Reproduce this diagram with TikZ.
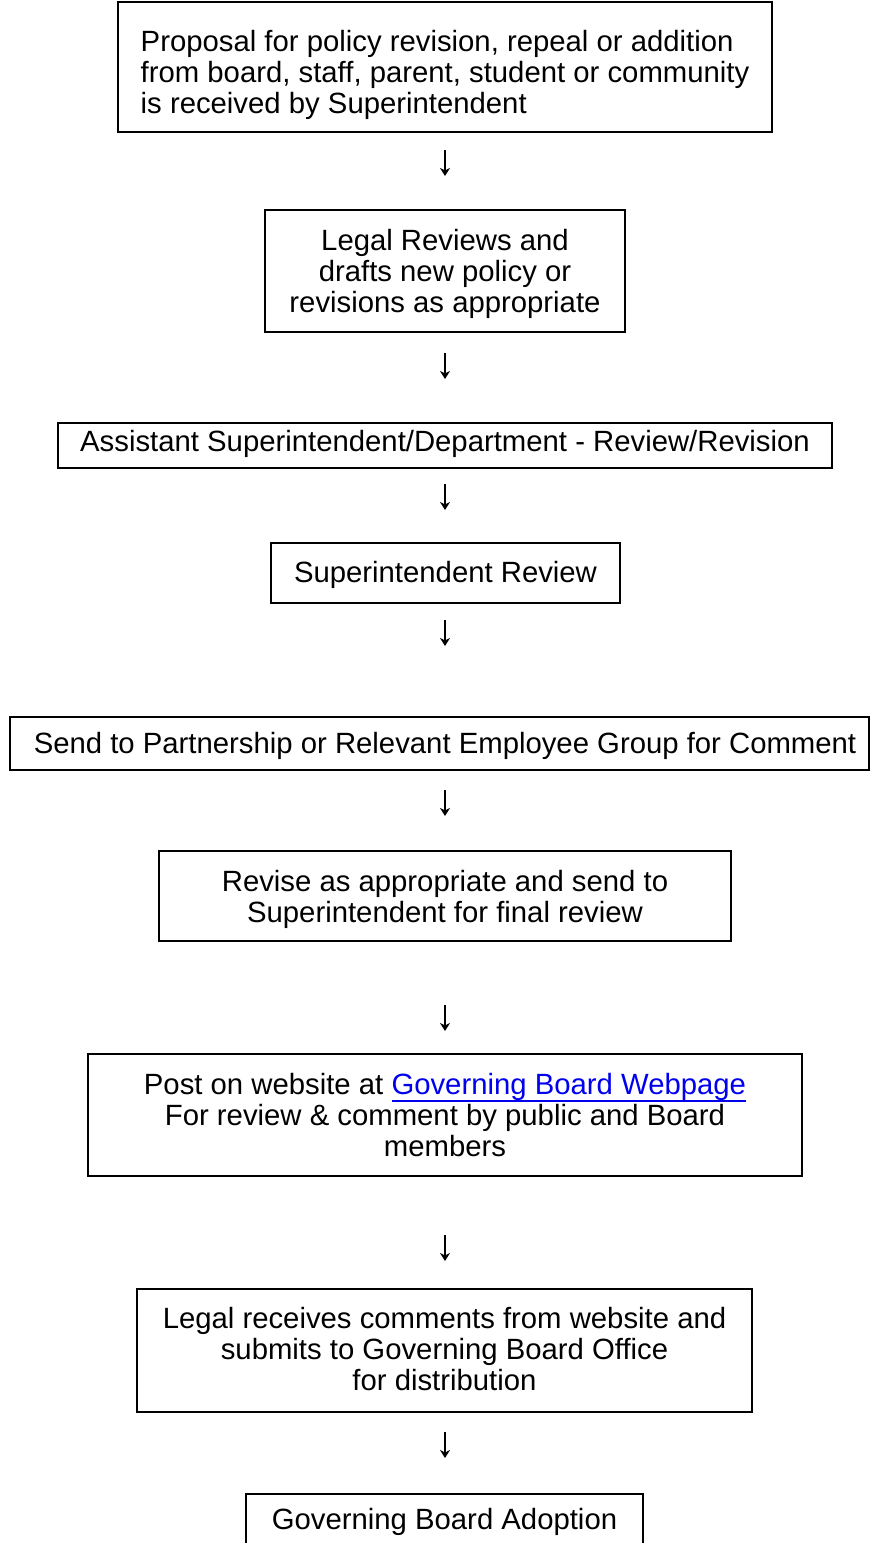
\documentclass[tikz,border=0pt]{standalone}
\usepackage{fontspec}
\setmainfont{Liberation Sans}
\usetikzlibrary{arrows.meta}
\definecolor{linkblue}{RGB}{0,0,238}
\tikzset{
  stepbox/.style={draw=black, line width=1.6pt, rectangle, inner sep=0pt},
  boxtext/.style={inner sep=0pt, align=center, font=\fontsize{29.3}{31}\selectfont},
  flowarrow/.style={line width=1.6pt, -{Stealth[length=8pt,width=10pt,inset=2.5pt]}},
}
\newlength{\lnkw}
\newcommand{\linkul}[1]{\settowidth{\lnkw}{#1}\textcolor{linkblue}{\rlap{\rule[-7pt]{\lnkw}{1.8pt}}#1}}
\begin{document}
\begin{tikzpicture}[x=1pt,y=-1pt]
\useasboundingbox (0,0) rectangle (870,1543);
\clip (0,0) rectangle (870,1543);
% boxes
\node[stepbox, minimum width=654pt, minimum height=130pt] (b1) at (445,67) {};
\node[stepbox, minimum width=360pt, minimum height=122pt] (b2) at (445,271) {};
\node[stepbox, minimum width=774pt, minimum height=45pt] (b3) at (445,445.5) {};
\node[stepbox, minimum width=349pt, minimum height=60pt] (b4) at (445.5,573) {};
\node[stepbox, minimum width=859pt, minimum height=53pt] (b5) at (439.5,743.5) {};
\node[stepbox, minimum width=572pt, minimum height=90pt] (b6) at (445,896) {};
\node[stepbox, minimum width=714pt, minimum height=122pt] (b7) at (445,1115) {};
\node[stepbox, minimum width=615pt, minimum height=123pt] (b8) at (444.5,1350.5) {};
\node[stepbox, minimum width=397pt, minimum height=54pt] (b9) at (444.5,1521) {};
% texts
\node[boxtext, align=left] (t1) at (445,75)
  {Proposal for policy revision, repeal or addition\\from board, staff, parent, student or community\\is received by Superintendent};
\node[boxtext] (t2) at (445,274)
  {Legal Reviews and\\drafts new policy or\\revisions as appropriate};
\node[boxtext] (t3) at (445,444)
  {Assistant Superintendent/Department - Review/Revision};
\node[boxtext] (t4) at (445.5,574.5)
  {Superintendent Review};
\node[boxtext] (t5) at (445,746)
  {Send to Partnership or Relevant Employee Group for Comment};
\node[boxtext] (t6) at (445,899.5)
  {Revise as appropriate and send to\\Superintendent for final review};
\node[boxtext] (t7) at (445,1115.5)
  {Post on website at \linkul{Governing Board Webpage}\\For review \& comment by public and Board\\members};
\node[boxtext] (t8) at (444.5,1349.5)
  {Legal receives comments from website and\\submits to Governing Board Office\\for distribution};
\node[boxtext] (t9) at (444.5,1522)
  {Governing Board Adoption};
% arrows
\coordinate (a1s) at (445,150); \coordinate (a1e) at (445,176);
\coordinate (a2s) at (445,353); \coordinate (a2e) at (445,379);
\coordinate (a3s) at (445,484); \coordinate (a3e) at (445,510);
\coordinate (a4s) at (445,620); \coordinate (a4e) at (445,646);
\coordinate (a5s) at (445,790); \coordinate (a5e) at (445,816);
\coordinate (a6s) at (445,1005); \coordinate (a6e) at (445,1031);
\coordinate (a7s) at (445,1235); \coordinate (a7e) at (445,1261);
\coordinate (a8s) at (445,1432); \coordinate (a8e) at (445,1458);
\foreach \i in {1,...,8} {\draw[flowarrow] (a\i s) -- (a\i e);}
\end{tikzpicture}
\end{document}
